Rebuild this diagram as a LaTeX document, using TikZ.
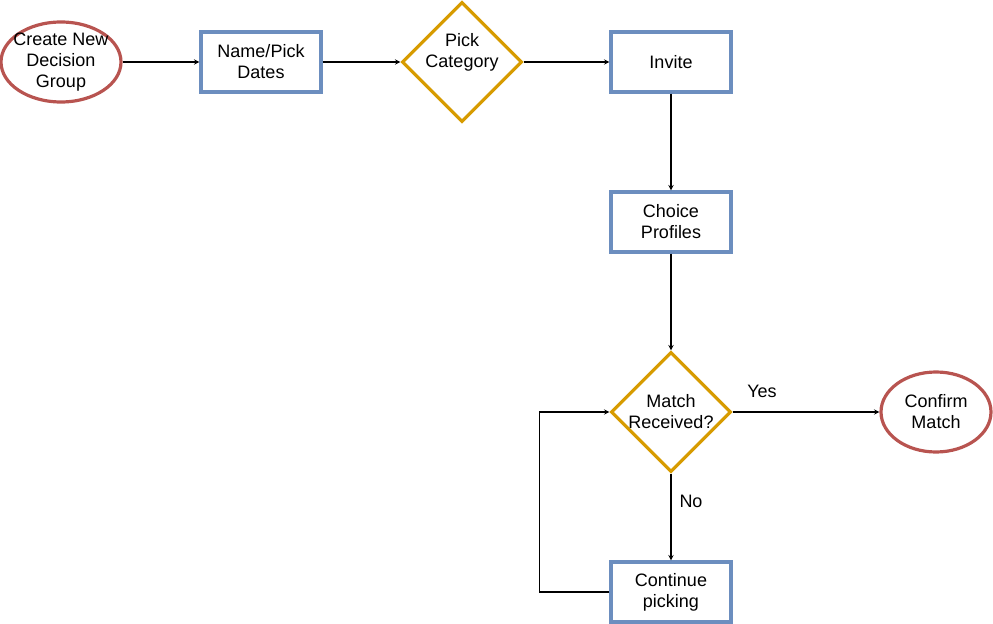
\documentclass[tikz,border=0pt]{standalone}
\usepackage{fontspec}
\setmainfont{Liberation Sans}
\usetikzlibrary{arrows,shapes.geometric}

\tikzset{
  base/.style={font=\fontsize{13.5}{15.75}\selectfont, align=center, line width=2.4pt},
  startend/.style={base, ellipse, draw=fl_red, inner xsep=-4pt, inner ysep=-2pt,
                   minimum width=90pt, minimum height=60pt},
  process/.style={base, rectangle, draw=fl_blue, inner sep=0pt,
                  minimum width=90pt, minimum height=45pt},
  decision/.style={base, diamond, draw=fl_orange, inner sep=-1pt,
                   minimum width=90pt, minimum height=90pt},
  caption/.style={font=\fontsize{13.5}{15.75}\selectfont, align=center},
  flow/.style={line width=0.8pt, >=stealth, ->}
}

\begin{document}
\begin{tikzpicture}[x=0.75pt,y=-0.75pt]
% ------------------------------------------------ flowchart colors
\definecolor{fl_red}{RGB}{184,84,80}     %#B85450
\definecolor{fl_blue}{RGB}{108,142,191}  %#6C8EBF
\definecolor{fl_orange}{RGB}{215,155,0}  %#D79B00

\useasboundingbox (0,0) rectangle (993,624);

% top row
\node[startend] (create) at (61,62) {Create New\\Decision\\Group};
\node[process] (dates) at (261,62) {Name/Pick\\Dates};
\node[decision] (category) at (462,62) {};
\node[caption] (category-text) at (462,52) {Pick\\Category};
\node[process] (invite) at (671,62) {Invite};

% down the right side
\node[process] (profiles) at (671,222) {Choice\\Profiles};
\node[decision] (match) at (671,412) {Match\\Received?};
\node[startend, minimum width=82.5pt] (confirm) at (936,412) {Confirm\\Match};
\node[process] (picking) at (671,592) {Continue\\picking};

\draw[flow] (create) -- (dates);
\draw[flow] (dates) -- (category);
\draw[flow] (category) -- (invite);
\draw[flow] (invite) -- (profiles);
\draw[flow] (profiles) -- (match);
\draw[flow] (match) -- (confirm)
  node[caption, pos=0.2, yshift=15.75pt] (yes) {Yes};
\draw[flow] (match) -- (picking)
  node[caption, pos=0.32, xshift=15pt] (no) {No};
\draw[flow] (picking.west) -- ++(-70,0) |- (match.west);

\end{tikzpicture}
\end{document}
